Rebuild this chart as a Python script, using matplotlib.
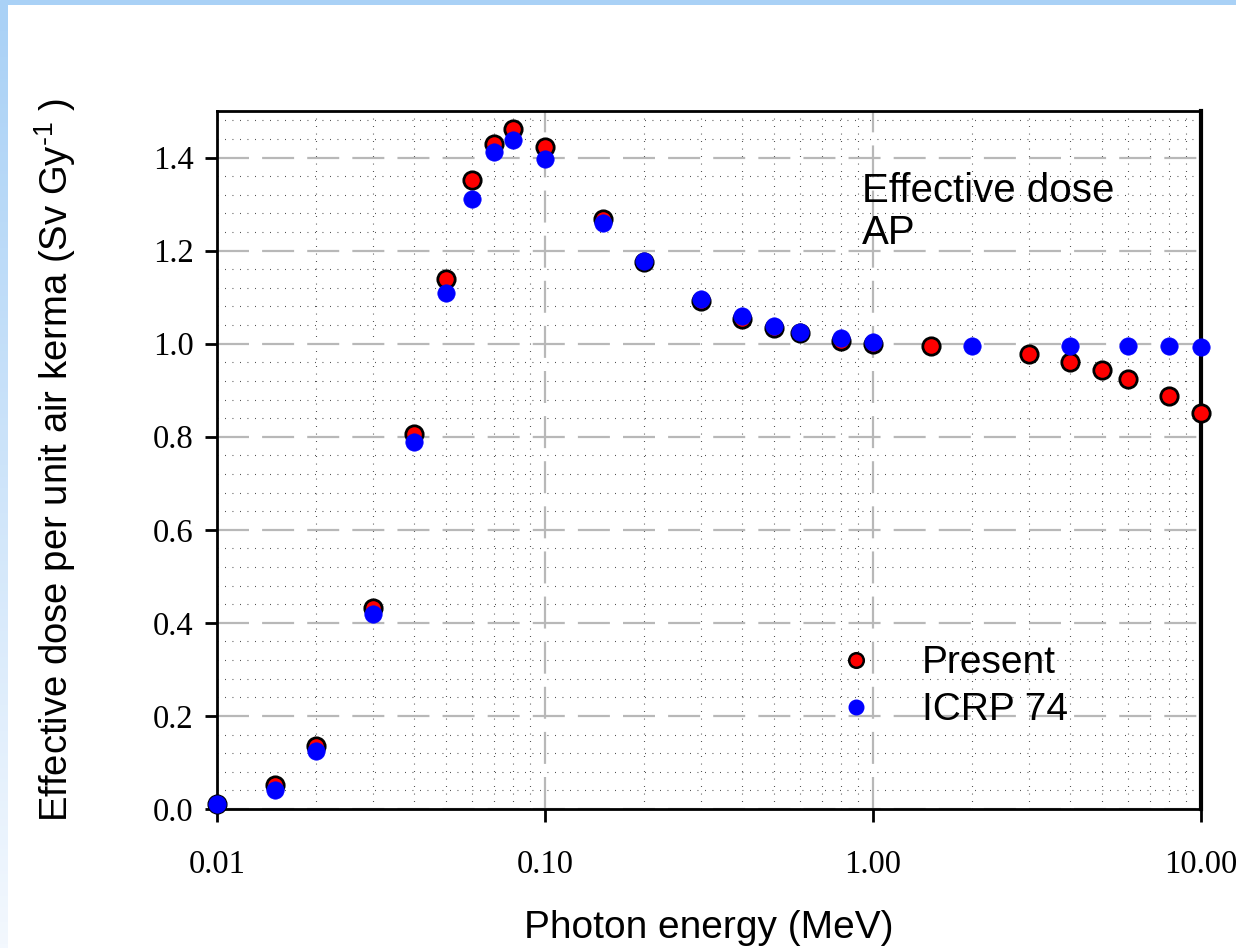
import matplotlib
matplotlib.use("Agg")
import matplotlib.pyplot as plt
import numpy as np
from matplotlib.lines import Line2D
from matplotlib.ticker import FixedLocator, FuncFormatter, MultipleLocator
from matplotlib.colors import LinearSegmentedColormap

# Data
energy_present = [0.01, 0.015, 0.02, 0.03, 0.04, 0.05, 0.06, 0.07, 0.08, 0.1, 0.15, 0.2,
                  0.3, 0.4, 0.5, 0.6, 0.8, 1.0, 1.5, 3.0, 4.0, 5.0, 6.0, 8.0, 10.0]
dose_present = [0.010, 0.052, 0.135, 0.432, 0.806, 1.138, 1.351, 1.430, 1.462, 1.422, 1.267, 1.176,
                1.092, 1.054, 1.034, 1.022, 1.006, 1.000, 0.994, 0.978, 0.960, 0.943, 0.925, 0.888, 0.851]
energy_icrp = [0.01, 0.015, 0.02, 0.03, 0.04, 0.05, 0.06, 0.07, 0.08, 0.1, 0.15, 0.2,
               0.3, 0.4, 0.5, 0.6, 0.8, 1.0, 2.0, 4.0, 6.0, 8.0, 10.0]
dose_icrp = [0.011, 0.041, 0.125, 0.419, 0.789, 1.108, 1.310, 1.411, 1.437, 1.396, 1.260, 1.178,
             1.097, 1.060, 1.039, 1.026, 1.013, 1.004, 0.994, 0.996, 0.996, 0.994, 0.992]
x_ticks = [0.01, 0.1, 1.0, 10.0]
x_tick_labels = ["0.01", "0.10", "1.00", "10.00"]
y_ticks = [0.0, 0.2, 0.4, 0.6, 0.8, 1.0, 1.2, 1.4]

serif = "Liberation Serif"
sans = "Liberation Sans"
plt.rcParams["mathtext.fontset"] = "custom"
plt.rcParams["mathtext.rm"] = sans
plt.rcParams["mathtext.it"] = sans

W, H = 1236, 948
fig = plt.figure(figsize=(W / 100, H / 100), dpi=100)
fig.patch.set_facecolor("white")

# light blue slide border
top_ax = fig.add_axes([0, 1 - 5 / H, 1, 5 / H])
top_ax.set_axis_off()
top_ax.add_patch(plt.Rectangle((0, 0), 1, 1, transform=top_ax.transAxes, color="#a9d1f6"))
left_ax = fig.add_axes([0, 0, 8 / W, 1 - 5 / H])
grad = np.linspace(0, 1, 256).reshape(-1, 1)
cmap = LinearSegmentedColormap.from_list("b", ["#f3f8fe", "#a9d1f6"])
left_ax.imshow(grad, aspect="auto", cmap=cmap, origin="lower", extent=[0, 1, 0, 1])
left_ax.set_axis_off()

ax = fig.add_axes([217 / W, 1 - 809 / H, (1201 - 217) / W, (809 - 111) / H])
ax.set_xscale("log")
ax.set_xlim(0.01, 10)
ax.set_ylim(0, 1.5)

ax.xaxis.set_major_locator(FixedLocator(x_ticks))
ax.xaxis.set_major_formatter(FuncFormatter(
    lambda v, p: x_tick_labels[x_ticks.index(min(x_ticks, key=lambda t: abs(t - v)))]))
minor_x = [m * d for d in [0.01, 0.1, 1.0] for m in range(2, 10)]
ax.xaxis.set_minor_locator(FixedLocator(minor_x))
ax.yaxis.set_major_locator(FixedLocator(y_ticks))
ax.yaxis.set_major_formatter(FuncFormatter(lambda v, p: f"{v:.1f}"))
ax.yaxis.set_minor_locator(MultipleLocator(0.04))

ax.tick_params(axis="both", which="major", direction="out", length=9, width=2,
               labelsize=23.5, pad=8)
ax.tick_params(axis="x", which="major", pad=20)
ax.tick_params(axis="both", which="minor", length=0)
for lab in ax.get_xticklabels() + ax.get_yticklabels():
    lab.set_fontfamily(serif)

ax.grid(True, which="minor", axis="both", color="black", linestyle=(0, (0.8, 5.95)),
        linewidth=0.8, alpha=0.75)
ax.grid(True, which="major", axis="both", color="#b8b8b8", linestyle=(0, (14.4, 5.9)),
        linewidth=1.6)
ax.set_axisbelow(True)

for s in ["left", "bottom", "top"]:
    ax.spines[s].set_linewidth(2)
ax.spines["right"].set_linewidth(3)

ax.plot(energy_present, dose_present, linestyle="none", marker="o", markersize=12.5,
        markerfacecolor="#ff0000", markeredgecolor="black", markeredgewidth=2, zorder=3, clip_on=False)
ax.plot(energy_icrp, dose_icrp, linestyle="none", marker="o", markersize=12.5,
        markerfacecolor="#0000ff", markeredgecolor="#0000ff", markeredgewidth=0.5, zorder=4, clip_on=False)

ax.set_xlabel("Photon energy (MeV)", fontsize=28, fontfamily=sans, labelpad=22)
fig.text(55 / W, 1 - 460 / H, r"Effective dose per unit air kerma (Sv Gy$^{\text{-1}}$ )",
         rotation=90, fontsize=27.5, fontfamily=sans, ha="center", va="center")

fig.text(862 / W, 1 - 172 / H, "Effective dose\nAP", fontsize=29, fontfamily=sans,
         ha="left", va="top", linespacing=1.12)

handles = [
    Line2D([], [], linestyle="none", marker="o", markersize=10.5, markerfacecolor="#ff0000",
           markeredgecolor="black", markeredgewidth=1.8),
    Line2D([], [], linestyle="none", marker="o", markersize=10.5, markerfacecolor="#0000ff",
           markeredgecolor="#0000ff"),
]
leg = ax.legend(handles, ["Present", "ICRP 74"], loc="upper left",
                bbox_to_anchor=(817 / W, 1 - 626 / H), bbox_transform=fig.transFigure,
                frameon=False, handlelength=1.0, handletextpad=1.2, borderpad=0,
                labelspacing=0.28, prop={"family": sans, "size": 28}, numpoints=1)

fig.savefig("out.png", dpi=100)
